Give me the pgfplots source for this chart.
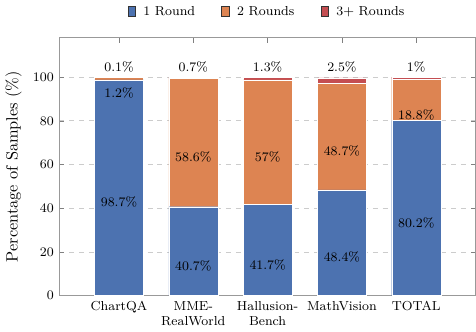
\documentclass[border=0pt]{standalone}
\usepackage{pgfplots}
\pgfplotsset{compat=1.18}
\definecolor{cblue}{HTML}{4C72B0}
\definecolor{corange}{HTML}{DD8452}
\definecolor{cred}{HTML}{C44E52}
\begin{document}
\begin{tikzpicture}
\pgfplotsset{common/.style={
  scale only axis,
  width=255pt, height=158pt,
  xmin=-0.8, xmax=4.8,
  ymin=0, ymax=118}}
\begin{axis}[
  common,
  ybar stacked,
  bar width=0.66,
  xtick={0,1,2,3,4},
  xticklabels={ChartQA, MME-\\RealWorld, Hallusion-\\Bench, MathVision, TOTAL},
  xticklabel style={align=center, font=\footnotesize, text depth=0pt},
  ytick={0,20,40,60,80,100},
  yticklabel style={font=\footnotesize},
  ylabel={Percentage of Samples (\%)},
  ylabel style={font=\normalsize},
  major tick length=3pt,
  tick style={draw=gray},
  tick align=inside,
  axis line style={draw=gray!80},
  ymajorgrids,
  grid style={dashed, gray!40},
  legend style={at={(0.5,1.05)}, anchor=south, draw=none, font=\footnotesize,
    legend columns=-1,
    /tikz/every odd column/.append style={column sep=3pt},
    /tikz/every even column/.append style={column sep=14pt}},
  legend image code/.code={\draw[#1, draw=black!80] (0pt,-2.5pt) rectangle (4.5pt,4pt);},
]
\addplot[fill=cblue, draw=white, line width=0.2pt] coordinates {(0,98.7) (1,40.7) (2,41.7) (3,48.4) (4,80.2)};
\addplot[fill=corange, draw=white, line width=0.2pt] coordinates {(0,1.2) (1,58.6) (2,57) (3,48.7) (4,18.8)};
\addplot[fill=cred, draw=white, line width=0.2pt] coordinates {(0,0.1) (1,0.7) (2,1.3) (3,2.5) (4,1)};
\legend{1 Round, 2 Rounds, 3+ Rounds}
\end{axis}
\begin{axis}[
  common,
  hide axis,
  nodes near coords,
  point meta=explicit symbolic,
  every node near coord/.append style={font=\footnotesize, anchor=center, inner sep=0pt},
]
\addplot[draw=none, mark=none] table[meta=lab] {
x y lab
0 42.65 98.7\%
1 13.65 40.7\%
2 14.15 41.7\%
3 17.5 48.4\%
4 33.4 80.2\%
};
\addplot[draw=none, mark=none] table[meta=lab] {
x y lab
0 92.6 1.2\%
1 63.3 58.6\%
2 63.5 57\%
3 66.05 48.7\%
4 82.9 18.8\%
};
\addplot[draw=none, mark=none] table[meta=lab] {
x y lab
0 104.5 0.1\%
1 104.5 0.7\%
2 104.5 1.3\%
3 104.5 2.5\%
4 104.5 1\%
};
\end{axis}
\end{tikzpicture}
\end{document}
